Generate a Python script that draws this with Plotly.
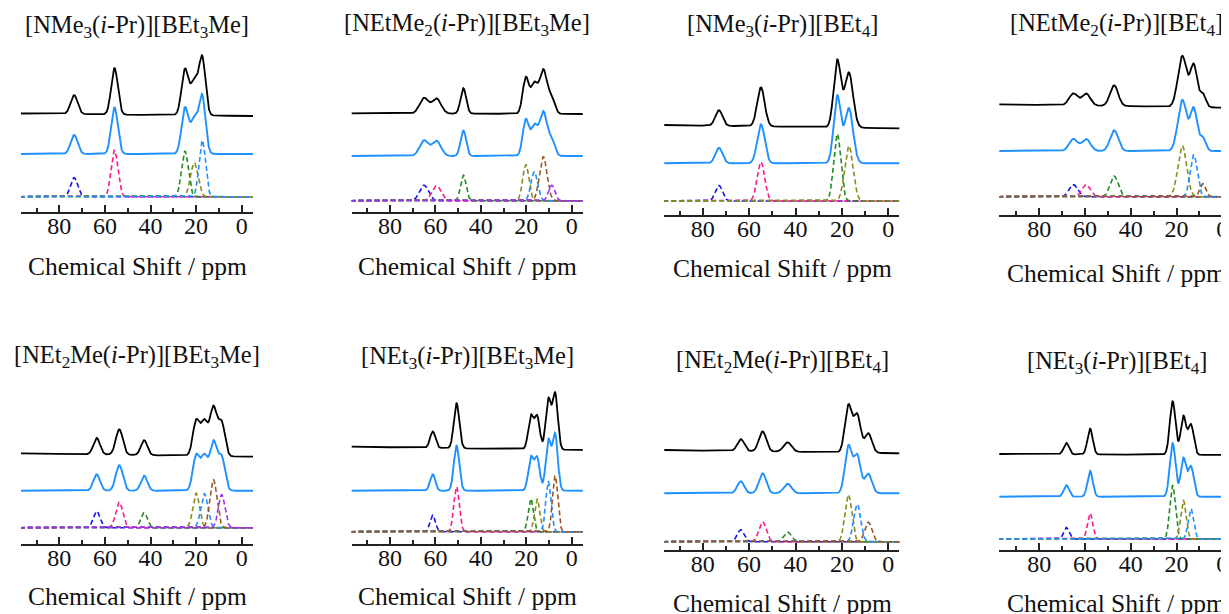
import numpy as np
import plotly.graph_objects as go

# the page body has an 8px margin, so the figure is drawn 8px in from the window corner
PAGE_W, PAGE_H = 1229, 614
OFF = 8.0
W, H = PAGE_W - 8, PAGE_H - 8
FONT = "Liberation Serif"

# ---------------- data ----------------
TITLES = [
    "[NMe<sub>3</sub>(<i>i</i>-Pr)][BEt<sub>3</sub>Me]",
    "[NEtMe<sub>2</sub>(<i>i</i>-Pr)][BEt<sub>3</sub>Me]",
    "[NMe<sub>3</sub>(<i>i</i>-Pr)][BEt<sub>4</sub>]",
    "[NEtMe<sub>2</sub>(<i>i</i>-Pr)][BEt<sub>4</sub>]",
    "[NEt<sub>2</sub>Me(<i>i</i>-Pr)][BEt<sub>3</sub>Me]",
    "[NEt<sub>3</sub>(<i>i</i>-Pr)][BEt<sub>3</sub>Me]",
    "[NEt<sub>2</sub>Me(<i>i</i>-Pr)][BEt<sub>4</sub>]",
    "[NEt<sub>3</sub>(<i>i</i>-Pr)][BEt<sub>4</sub>]",
]
X_TITLE = "Chemical Shift / ppm"
TICK_VALUES = [80, 60, 40, 20, 0]
MINOR_TICK_VALUES = [90, 70, 50, 30, 10]

# fitted components per panel: component name, centre (ppm), height (a.u.), FWHM (ppm)
P1_NAMES = ["blue", "pink", "green", "olive", "lightblue"]
P1_CENTERS = [73.5, 55.8, 24.9, 20.8, 17.3]
P1_HEIGHTS = [19.0, 46.5, 45.5, 34.0, 56.5]
P1_FWHM = [3.6, 3.4, 3.5, 3.8, 3.3]

P2_NAMES = ["blue", "pink", "green", "olive", "lightblue", "brown", "purple"]
P2_CENTERS = [65.0, 59.5, 47.7, 20.2, 16.5, 12.5, 8.8]
P2_HEIGHTS = [15.5, 15.0, 25.5, 36.0, 29.0, 44.0, 15.5]
P2_FWHM = [4.6, 4.6, 2.9, 3.2, 3.4, 3.9, 3.2]

P3_NAMES = ["blue", "pink", "green", "olive"]
P3_CENTERS = [73.0, 54.9, 22.0, 17.0]
P3_HEIGHTS = [15.5, 39.0, 67.0, 55.0]
P3_FWHM = [3.6, 3.8, 3.6, 4.2]

P4_NAMES = ["blue", "pink", "green", "olive", "lightblue", "brown"]
P4_CENTERS = [65.1, 59.5, 47.3, 17.5, 12.5, 8.5]
P4_HEIGHTS = [12.0, 12.0, 20.7, 51.0, 42.0, 13.0]
P4_FWHM = [4.35, 4.35, 4.2, 4.5, 3.6, 3.0]

P5_NAMES = ["blue", "pink", "green", "olive", "lightblue", "brown", "purple"]
P5_CENTERS = [63.6, 53.7, 42.8, 20.0, 16.4, 12.4, 8.8]
P5_HEIGHTS = [16.5, 25.5, 15.0, 34.5, 34.0, 48.0, 33.0]
P5_FWHM = [3.4, 3.6, 3.3, 3.4, 3.6, 3.6, 3.4]

P6_NAMES = ["blue", "pink", "green", "olive", "lightblue", "brown"]
P6_CENTERS = [61.2, 50.7, 18.0, 15.2, 10.3, 7.3]
P6_HEIGHTS = [16.5, 45.0, 33.0, 32.5, 50.0, 56.0]
P6_FWHM = [2.7, 2.8, 2.7, 2.7, 2.7, 2.7]

P7_NAMES = ["blue", "pink", "green", "olive", "lightblue", "brown"]
P7_CENTERS = [63.6, 54.2, 43.4, 17.2, 13.4, 8.6]
P7_HEIGHTS = [12.0, 20.0, 9.5, 47.0, 37.5, 19.5]
P7_FWHM = [3.5, 3.7, 4.0, 3.5, 3.5, 3.6]

P8_NAMES = ["blue", "pink", "green", "olive", "lightblue"]
P8_CENTERS = [68.2, 57.8, 21.7, 17.0, 13.7]
P8_HEIGHTS = [11.5, 25.8, 53.5, 38.5, 30.0]
P8_FWHM = [2.7, 2.7, 2.9, 2.8, 2.8]

PANELS = [
    (P1_NAMES, P1_CENTERS, P1_HEIGHTS, P1_FWHM),
    (P2_NAMES, P2_CENTERS, P2_HEIGHTS, P2_FWHM),
    (P3_NAMES, P3_CENTERS, P3_HEIGHTS, P3_FWHM),
    (P4_NAMES, P4_CENTERS, P4_HEIGHTS, P4_FWHM),
    (P5_NAMES, P5_CENTERS, P5_HEIGHTS, P5_FWHM),
    (P6_NAMES, P6_CENTERS, P6_HEIGHTS, P6_FWHM),
    (P7_NAMES, P7_CENTERS, P7_HEIGHTS, P7_FWHM),
    (P8_NAMES, P8_CENTERS, P8_HEIGHTS, P8_FWHM),
]

# ---------------- styles / layout ----------------
COMP_COLORS = {
    "blue": "#1010f0",
    "pink": "#ff1a8c",
    "green": "#228b22",
    "olive": "#8b8b1a",
    "lightblue": "#1e90ff",
    "brown": "#9a5526",
    "purple": "#9b30ff",
}
FIT_COLOR = "#1e90ff"
EXP_COLOR = "#000000"
AXIS_COLOR = "#222222"
TEXT_COLOR = "#111111"

# column geometry in window pixels: axis left end, axis right end, px of 80 ppm tick, px of 0 ppm tick
COLS = [
    (21.0, 253.0, 59.3, 241.7),
    (351.7, 582.7, 390.0, 571.7),
    (664.3, 899.3, 702.7, 888.3),
    (999.3, 1229.0, 1039.3, 1222.3),
]
# per panel (window pixels): axis line y, exp baseline y (left,right), fit baseline y,
# component baseline y, title centre y, x-title centre y
ROWS = [
    (212.0, 113.5, 116.0, 154.0, 196.7, 27.0, 266.7),
    (212.3, 113.3, 114.0, 156.0, 200.7, 25.0, 266.7),
    (215.0, 125.0, 128.3, 163.3, 201.0, 25.5, 268.0),
    (215.0, 104.3, 107.7, 151.0, 196.7, 24.5, 273.0),
    (544.3, 453.3, 456.7, 490.7, 527.7, 356.0, 596.0),
    (544.3, 446.7, 450.0, 490.7, 531.7, 357.5, 596.7),
    (550.0, 450.0, 453.3, 493.3, 541.7, 361.7, 603.0),
    (550.0, 454.0, 455.0, 496.7, 539.0, 362.5, 603.0),
]
YSPAN = 190.0
FS_TITLE = 24.5
FS_XTITLE = 25.5
FS_TICK = 24


def peak(x, c, h, fwhm):
    s = fwhm / 2.3548
    return h * np.exp(-0.5 * ((x - c) / s) ** 2)


def px_x(p):
    return (p - OFF) / W


def px_y(p):
    return 1 - (p - OFF) / H


fig = go.Figure()
annotations = []
layout_axes = {}

for i, (names, centers, heights, fwhms) in enumerate(PANELS):
    left_px, right_px, p80, p0 = COLS[i % 4]
    ppx = (p0 - p80) / 80.0
    ppm_left = (p0 - left_px) / ppx
    ppm_right = (p0 - right_px) / ppx
    full_right_px = p0 + 5.0 * ppx
    axis_y, exp_l, exp_r, fit_y, comp_y, title_c, xt_c = ROWS[i]

    n = i + 1
    xa = "x" if n == 1 else f"x{n}"
    ya = "y" if n == 1 else f"y{n}"

    x = np.linspace(ppm_left + 0.5, ppm_right - 0.5, 1600)
    comps = [peak(x, c, h, w) for c, h, w in zip(centers, heights, fwhms)]
    total = np.sum(comps, axis=0)

    frac = (ppm_left - x) / (ppm_left - ppm_right)
    base_exp = (axis_y - exp_l) + (exp_l - exp_r) * frac
    fig.add_trace(go.Scatter(x=x, y=base_exp + total, mode="lines",
                             line=dict(color=EXP_COLOR, width=1.8),
                             xaxis=xa, yaxis=ya, showlegend=False, hoverinfo="skip"))
    fig.add_trace(go.Scatter(x=x, y=(axis_y - fit_y) + total, mode="lines",
                             line=dict(color=FIT_COLOR, width=1.9),
                             xaxis=xa, yaxis=ya, showlegend=False, hoverinfo="skip"))
    for name, comp in zip(names, comps):
        fig.add_trace(go.Scatter(x=x, y=(axis_y - comp_y) + comp, mode="lines",
                                 line=dict(color=COMP_COLORS[name], width=1.6, dash="5px,3px"),
                                 xaxis=xa, yaxis=ya, showlegend=False, hoverinfo="skip"))

    xkey = "xaxis" if n == 1 else f"xaxis{n}"
    ykey = "yaxis" if n == 1 else f"yaxis{n}"
    layout_axes[xkey] = dict(
        domain=[max(px_x(left_px), 0.0), min(px_x(right_px), 1.0)],
        range=[ppm_left, ppm_right],
        anchor=ya,
        showline=True, linecolor=AXIS_COLOR, linewidth=1.7,
        ticks="inside", ticklen=7, tickwidth=1.5, tickcolor=AXIS_COLOR,
        tickvals=TICK_VALUES, ticktext=[str(v) for v in TICK_VALUES],
        minor=dict(ticks="inside", ticklen=4.5, tickwidth=1.5, tickcolor=AXIS_COLOR,
                   tickvals=MINOR_TICK_VALUES),
        showgrid=False, zeroline=False,
        tickfont=dict(family=FONT, size=FS_TICK, color=TEXT_COLOR),
        ticklabelstandoff=-9,
    )
    layout_axes[ykey] = dict(
        domain=[px_y(axis_y), px_y(axis_y - YSPAN)],
        range=[0, YSPAN],
        anchor=xa, visible=False, fixedrange=True,
        showticklabels=False, ticks="", showgrid=False, zeroline=False,
    )

    cx = (left_px + full_right_px) / 2.0
    annotations.append(dict(text=TITLES[i], x=px_x(cx), y=px_y(title_c),
                            xref="paper", yref="paper", xanchor="center", yanchor="middle",
                            showarrow=False, font=dict(family=FONT, size=FS_TITLE, color=TEXT_COLOR)))
    annotations.append(dict(text=X_TITLE, x=px_x(cx), y=px_y(xt_c),
                            xref="paper", yref="paper", xanchor="center", yanchor="middle",
                            showarrow=False, font=dict(family=FONT, size=FS_XTITLE, color=TEXT_COLOR)))

fig.update_layout(
    width=W, height=H,
    margin=dict(l=0, r=0, t=0, b=0),
    paper_bgcolor="white", plot_bgcolor="rgba(0,0,0,0)",
    showlegend=False,
    annotations=annotations,
    **layout_axes,
)

fig.write_html("out.html")
